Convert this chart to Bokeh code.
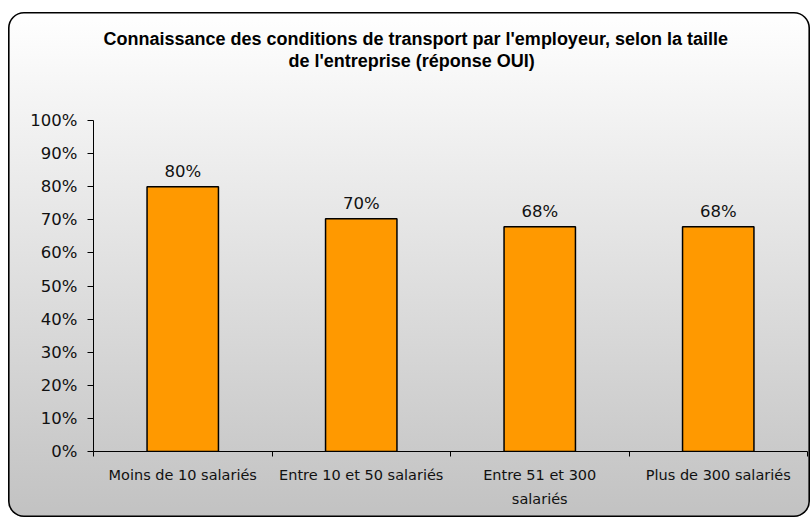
from bokeh.plotting import figure
from bokeh.models import (Range1d, FixedTicker, SingleIntervalTicker, PrintfTickFormatter,
                          ColumnDataSource, LabelSet, Title)
from bokeh.embed import file_html
from bokeh.resources import INLINE
from bokeh.core.properties import value

title_lines = ["Connaissance des conditions de transport par l'employeur, selon la taille",
               "de l'entreprise (réponse OUI)"]
categories = ["Moins de 10 salariés", "Entre 10 et 50 salariés",
              "Entre 51 et 300\nsalariés", "Plus de 300 salariés"]
values = [80.0, 70.3, 67.9, 67.9]
y_tick_interval = 10

x = [i + 0.5 for i in range(len(categories))]
labels = [f"{round(v)}%" for v in values]
src = ColumnDataSource(dict(x=x, top=values, label=labels))

W, H = 802, 505
p = figure(width=W, height=H, output_backend="svg", toolbar_location=None,
           x_range=Range1d(0, len(categories)), y_range=Range1d(0, 100),
           min_border_left=85, min_border_right=3, min_border_top=108, min_border_bottom=66)
p.background_fill_alpha = 0
p.border_fill_alpha = 0
p.outline_line_color = None
p.xgrid.visible = False
p.ygrid.visible = False
p.styles = {"background": "linear-gradient(to bottom, #ffffff 0%, #c2c2c2 100%)",
            "border-radius": "16px",
            "box-shadow": "inset 0 0 0 1.6px #000000",
            "margin-top": "12px",
            "margin-left": "8px"}

p.vbar(x="x", top="top", bottom=0, width=0.4, source=src,
       fill_color="#FF9900", line_color="#000000", line_width=1.5)

xa = p.xaxis[0]
xa.ticker = FixedTicker(ticks=x, minor_ticks=list(range(len(categories) + 1)))
xa.major_label_overrides = {xi: c for xi, c in zip(x, categories)}
xa.major_tick_out = 0
xa.major_tick_in = 0
xa.minor_tick_out = 5
xa.minor_tick_in = 0
xa.minor_tick_line_color = "#000000"
xa.axis_line_color = "#000000"
xa.major_label_standoff = 10
xa.major_label_text_font = "DejaVu Sans"
xa.major_label_text_font_size = "14.5px"
xa.major_label_text_color = "#111111"
xa.major_label_text_line_height = 1.5

ya = p.yaxis[0]
ya.ticker = SingleIntervalTicker(interval=y_tick_interval, num_minor_ticks=0)
ya.formatter = PrintfTickFormatter(format="%d%%")
ya.major_tick_out = 6
ya.major_tick_in = 0
ya.minor_tick_line_color = None
ya.axis_line_color = "#000000"
ya.major_tick_line_color = "#000000"
ya.major_label_standoff = 10
ya.major_label_text_font = "DejaVu Sans"
ya.major_label_text_font_size = "16.5px"
ya.major_label_text_color = "#111111"

p.add_layout(LabelSet(x="x", y="top", text="label", source=src, text_align="center",
                      text_baseline="alphabetic", y_offset=10,
                      text_font=value("DejaVu Sans"), text_font_size="16.5px",
                      text_color="#111111"))

# empty spacer panel between the plot area and the title
p.add_layout(Title(text=" ", standoff=28, text_font_size="18px"), "above")
# title: second line added first (closest to the plot), first line above it
title_offsets = [10, 195]
for t, off in reversed(list(zip(title_lines, title_offsets))):
    p.add_layout(Title(text=t, align="left", offset=off, standoff=0,
                       text_font="Liberation Sans", text_font_style="bold",
                       text_font_size="18px", text_color="#000000"), "above")

open("out.html", "w").write(file_html(p, INLINE))
